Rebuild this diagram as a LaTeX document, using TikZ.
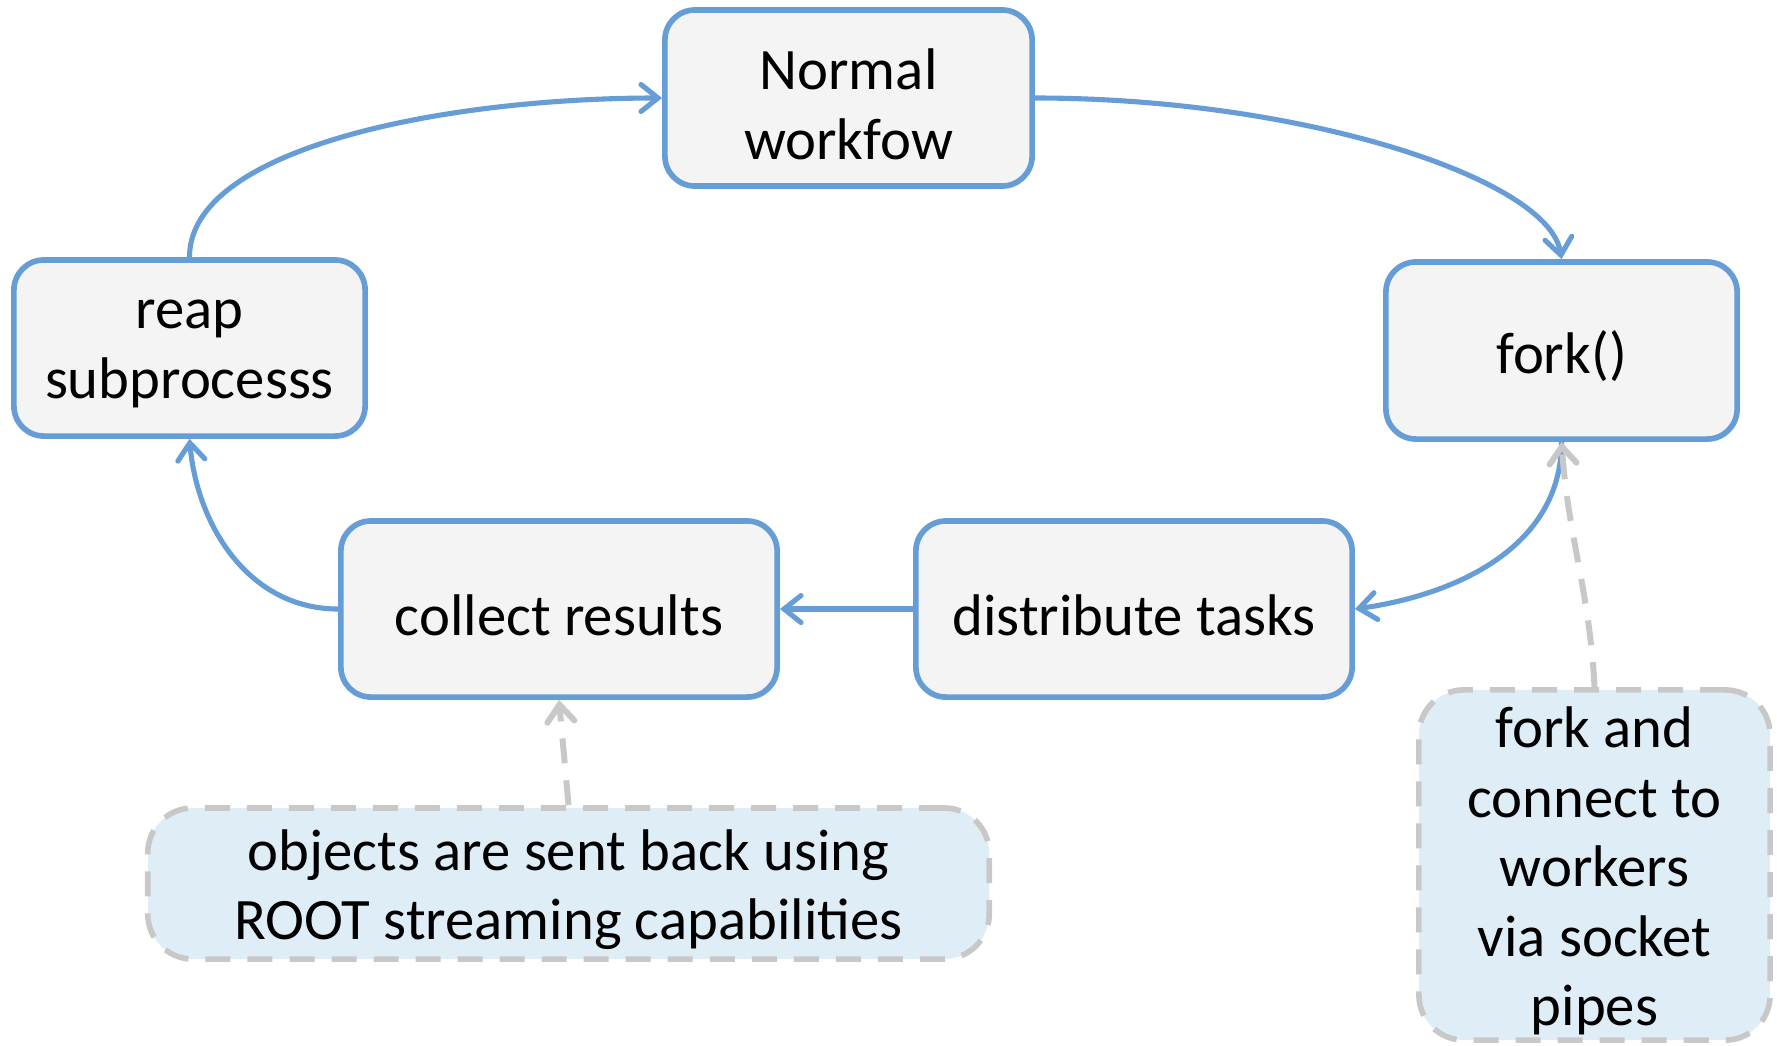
\documentclass[tikz,border=0pt]{standalone}
\usepackage{fontspec}
\setmainfont{Carlito}
\usetikzlibrary{arrows.meta}
\definecolor{edgeblue}{RGB}{102,157,214}
\definecolor{boxfill}{RGB}{244,244,244}
\definecolor{notefill}{RGB}{223,238,246}
\definecolor{notegray}{RGB}{200,200,200}
\tikzset{
  boxtext/.style={align=center, inner sep=0pt, yshift=-0.06cm,
    font=\fontsize{16.7pt}{19.8pt}\selectfont},
  stage/.style={draw=edgeblue, fill=boxfill, line width=1.6pt, rounded corners=0.3cm,
    inner sep=0pt, label={[boxtext]center:#1}},
  note/.style={draw=notegray, fill=notefill, line width=1.6pt, dash pattern=on 0.25cm off 0.17cm,
    rounded corners=0.45cm, inner sep=0pt, label={[boxtext]center:#1}},
  flow/.style={draw=edgeblue, line width=1.45pt,
    -{Straight Barb[length=0.17cm, width=0.27cm, line cap=round]}},
  hint/.style={draw=notegray, line width=1.7pt, dash pattern=on 0.25cm off 0.17cm,
    -{Straight Barb[length=0.17cm, width=0.27cm, line cap=round]}}
}
\begin{document}
\begin{tikzpicture}[x=0.01cm, y=-0.01cm]
  \useasboundingbox (0,0) rectangle (1777,1045);

  % process stages
  \node[stage={Normal\\workfow}, minimum width=3.67cm, minimum height=1.76cm] (normal) at (848.5,98) {};
  \node[stage={fork()}, minimum width=3.51cm, minimum height=1.77cm] (fork) at (1561.5,350.5) {};
  \node[stage={reap\\subprocesss}, minimum width=3.51cm, minimum height=1.76cm] (reap) at (189.5,348) {};
  \node[stage={collect results}, minimum width=4.36cm, minimum height=1.76cm] (collect) at (559,609) {};
  \node[stage={distribute tasks}, minimum width=4.36cm, minimum height=1.76cm] (distribute) at (1134,609) {};

  % explanatory notes
  \node[note={objects are sent back using\\ROOT streaming capabilities},
        minimum width=8.41cm, minimum height=1.51cm] (objects) at (568.5,883.5) {};
  \node[note={fork and\\connect to\\workers\\via socket\\pipes},
        minimum width=3.51cm, minimum height=3.50cm] (connect) at (1594.5,865) {};

  % cycle of the workflow
  \draw[flow] (reap.north) .. controls +(0,-110) and +(-215,0) .. (normal.west);
  \draw[flow] (normal.east) .. controls +(268,0) and +(-12,-80) .. (fork.north);
  \draw[flow] (fork.south) to[out=-90, in=8] (distribute.east);
  \draw[flow] (distribute.west) -- (collect.east);
  \draw[flow] (collect.west) to[out=180, in=-85] (reap.south);

  % notes pointing at their stages
  \draw[hint] (connect.north) to[out=93, in=-86] (fork.south);
  \draw[hint] (objects.north) to[out=95, in=-85] (collect.south);
\end{tikzpicture}
\end{document}
